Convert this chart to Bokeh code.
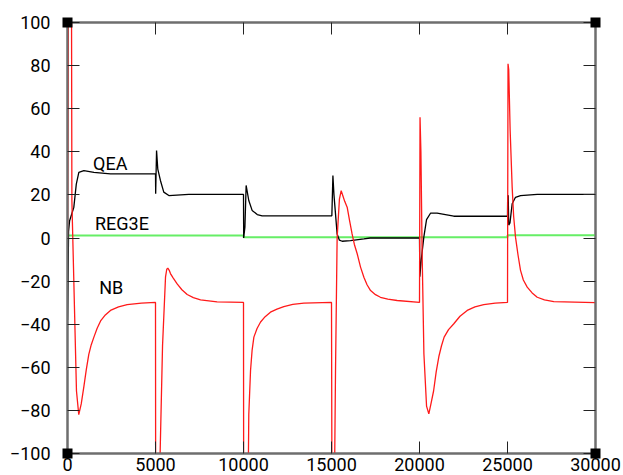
from bokeh.plotting import figure
from bokeh.models import LinearAxis, Label, Range1d, FixedTicker
from bokeh.embed import file_html
from bokeh.resources import INLINE

# ---- data: responses to the step changes at 0, 5000, 10000, 15000, 20000, 25000 ----
qea_t = [0, 30, 60, 120, 360, 500, 644, 930, 1500, 2440, 5000,
         5010, 5060, 5130, 5280, 5470, 5760, 6890, 10000,
         10010, 10080, 10150, 10300, 10490, 10780, 11060, 15000,
         15020, 15080, 15140, 15320, 15450, 15606, 16080, 16840, 17200, 20000,
         20020, 20100, 20246, 20400, 20625, 21000, 21950, 25000,
         25010, 25040, 25070, 25140, 25265, 25455, 25740, 26690, 30000]
qea_v = [-38, -20, 3, 8, 14.3, 25, 30.5, 31.3, 30.5, 29.8, 29.8,
         20.5, 40.6, 32, 26.7, 21.3, 19.7, 20.2, 20.2,
         0, 5, 24.4, 17.4, 12.8, 10.9, 10.3, 10.3,
         10.3, 29, 20, 1.9, -1, -1.5, -1.2, -0.4, 0, 0,
         -18, -10, 0.4, 8.5, 11.5, 11.5, 10.1, 10.1,
         19.7, 19.7, 6, 7, 15.9, 18.9, 19.7, 20.2, 20.2]

nb_t = [0, 60, 170, 230, 250, 510, 640, 780, 930, 1070, 1210, 1350, 1500, 1680,
        1880, 2150, 2440, 2900, 3390, 4200, 5000,
        5010, 5180, 5400, 5570, 5640, 5700, 5780, 5850, 6000, 6230, 6500, 6800,
        7150, 7560, 8500, 10000,
        10010, 10250, 10300, 10400, 10490, 10590, 10770, 10970, 11230, 11530,
        11900, 12290, 12800, 13430, 15000,
        15030, 15150, 15230, 15320, 15450, 15550, 15650, 15750, 15890, 16030,
        16170, 16300, 16460, 16650, 16840, 17020, 17220, 17500, 17780, 18200,
        18730, 20000,
        20030, 20080, 20150, 20250, 20400, 20530, 20650, 20800, 20950, 21100,
        21250, 21400, 21650, 21950, 22300, 22710, 23150, 23650, 24300, 25000,
        25030, 25070, 25150, 25265, 25350, 25455, 25600, 25740, 25900, 26120,
        26400, 26690, 27100, 27630, 30000]
nb_v = [0, 130, 130, 100, 17, -71, -82, -77, -69, -61, -54, -49.5, -46, -42,
        -38.5, -35.7, -33.6, -32, -30.9, -30.2, -29.9,
        -130, -130, -50, -18, -14.5, -14, -15, -16.5, -18.5, -21.3, -24, -26.2,
        -27.7, -28.7, -29.6, -29.9,
        -130, -130, -82, -61.5, -52, -46, -42, -39, -36.5, -34.4,
        -33, -31.8, -30.8, -30.2, -29.9,
        -130, -130, -60, 0, 18, 22, 19.5, 17, 14.3, 8,
        1.9, -3, -7.3, -13.5, -18.2, -21.7, -24.4, -26.3, -27.5, -28.4,
        -29, -29.9,
        56, 40, -7.3, -53.7, -78, -81.6, -77, -71, -62, -55,
        -50, -46, -42.5, -39.8, -36.3, -33.6, -32, -30.9, -30.2, -29.9,
        80.8, 78, 50, 23.6, 10, 0.4, -8, -15, -19.5, -22.8,
        -25.5, -27.5, -28.7, -29.5, -30]

reg3e_t = [0, 10000, 10000, 25000, 25000, 30000]
reg3e_v = [1.2, 1.2, 0.3, 0.3, 1.3, 1.3]

series_names = ["QEA", "REG3E", "NB"]

x_ticks = [0, 5000, 10000, 15000, 20000, 25000, 30000]
x_tick_labels = ["0", "5000", "10000", "15000", "20000", "25000", "30000"]
y_ticks = [-100, -80, -60, -40, -20, 0, 20, 40, 60, 80, 100]
y_tick_labels = ["\u2212100", "\u221280", "\u221260", "\u221240", "\u221220", "0",
                 "20", "40", "60", "80", "100"]

FONT = "Roboto"

p = figure(width=623, height=475,
           x_range=Range1d(x_ticks[0], x_ticks[-1]),
           y_range=Range1d(y_ticks[0], y_ticks[-1]),
           output_backend="svg", toolbar_location=None,
           min_border_left=67, min_border_right=28,
           min_border_top=22, min_border_bottom=22)
p.background_fill_color = "white"
p.border_fill_color = "white"
p.xgrid.visible = False
p.ygrid.visible = False
p.outline_line_color = "#6e6e6e"
p.outline_line_width = 2

# the two ends of the y range carry a filled 10 px square on the left and
# right axes; they are drawn as short, wide minor ticks so they are not clipped
y_ends = [y_ticks[0], y_ticks[-1]]


def style_axis(ax, ticker, labels, show_labels, corner_marks=False):
    ax.ticker = ticker
    ax.axis_line_color = "#6e6e6e"
    ax.axis_line_width = 2
    ax.major_tick_in = 12
    ax.major_tick_out = 0
    ax.major_tick_line_color = "#222222"
    ax.major_tick_line_width = 1
    if corner_marks:
        ax.minor_tick_in = 5
        ax.minor_tick_out = 5
        ax.minor_tick_line_width = 10
        ax.minor_tick_line_color = "black"
        ax.minor_tick_line_cap = "butt"
    else:
        ax.minor_tick_line_color = None
    if show_labels:
        ax.major_label_overrides = {t: s for t, s in zip(ticker.ticks, labels)}
        ax.major_label_text_font = FONT
        ax.major_label_text_color = "black"
        ax.major_label_text_font_size = "18px"
    else:
        # tick marks only on the opposite sides
        ax.major_label_text_font_size = "1px"
        ax.major_label_text_color = None
        ax.major_label_standoff = 0


style_axis(p.xaxis[0], FixedTicker(ticks=x_ticks), x_tick_labels, True)
p.xaxis[0].major_label_standoff = 4
style_axis(p.yaxis[0], FixedTicker(ticks=y_ticks, minor_ticks=y_ends),
           y_tick_labels, True, corner_marks=True)
p.yaxis[0].major_label_standoff = 12

top_axis = LinearAxis()
style_axis(top_axis, FixedTicker(ticks=x_ticks), x_tick_labels, False)
p.add_layout(top_axis, "above")
right_axis = LinearAxis()
style_axis(right_axis, FixedTicker(ticks=y_ticks, minor_ticks=y_ends),
           y_tick_labels, False, corner_marks=True)
p.add_layout(right_axis, "right")

# curves
p.line(reg3e_t, reg3e_v, line_color="#66ee66", line_width=2)
p.line(qea_t, qea_v, line_color="black", line_width=1.3)
p.line(nb_t, nb_v, line_color="#ff1a1a", line_width=1.3)

# curve names
label_pos = [(1450, 34.6), (1560, 6.8), (1800, -22.9)]
for name, (lx, ly) in zip(series_names, label_pos):
    p.add_layout(Label(x=lx, y=ly, text=name, text_font=FONT,
                       text_font_size="18px", text_color="black",
                       text_baseline="alphabetic"))

open("out.html", "w").write(file_html(p, INLINE))
